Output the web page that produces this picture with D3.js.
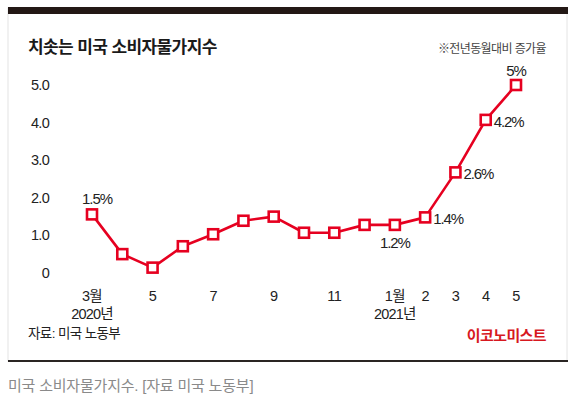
<!DOCTYPE html>
<html>
<head>
<meta charset="utf-8">
<script src="https://cdn.jsdelivr.net/npm/d3@7"></script>
<style>
  body { margin: 0; background: #fff; }
  text { font-family: "Liberation Sans", "Noto Sans CJK KR", sans-serif; }
</style>
</head>
<body>
<div id="chart"></div>
<script>
// months from 2020.3 to 2021.5
const months = ["2020-03","2020-04","2020-05","2020-06","2020-07","2020-08","2020-09",
    "2020-10","2020-11","2020-12","2021-01","2021-02","2021-03","2021-04","2021-05"];
const cpi = [1.55, 0.49, 0.13, 0.7, 1.02, 1.38, 1.49, 1.06, 1.06, 1.27, 1.27, 1.47, 2.67, 4.07, 5.0];
const tickLabels = ["3월", "", "5", "", "7", "", "9", "", "11", "", "1월", "2", "3", "4", "5"];
const yearLabels = ["2020년", "", "", "", "", "", "", "", "", "", "2021년", "", "", "", ""];
const valueLabels = ["1.5%", "", "", "", "", "", "", "", "", "", "1.2%", "1.4%", "2.6%", "4.2%", "5%"];
const yTicks = [0, 1, 2, 3, 4, 5];

const width = 582, height = 397;
const red = "#e60020";

const svg = d3.select("#chart").append("svg")
    .attr("width", width)
    .attr("height", height);

// frame
svg.append("rect").attr("x", 8).attr("y", 8).attr("width", 559).attr("height", 353)
    .attr("fill", "none").attr("stroke", "#e4e4e4").attr("stroke-width", 1);
svg.append("rect").attr("x", 8).attr("y", 7).attr("width", 560).attr("height", 7).attr("fill", "#231815");
svg.append("rect").attr("x", 8).attr("y", 360).attr("width", 560).attr("height", 2).attr("fill", "#2a2523");

svg.append("text").attr("x", 28).attr("y", 53)
    .attr("font-size", 17).attr("font-weight", "bold").attr("fill", "#1a1a1a")
    .attr("letter-spacing", -0.6)
    .text("치솟는 미국 소비자물가지수");

svg.append("text").attr("x", 546).attr("y", 53).attr("text-anchor", "end")
    .attr("font-size", 12).attr("fill", "#444").attr("letter-spacing", -0.6)
    .text("※전년동월대비 증가율");

const x = d3.scaleLinear().domain([0, months.length - 1]).range([92, 516]);
const y = d3.scaleLinear().domain([0, 5]).range([272.5, 85]);

// y labels
svg.append("g")
    .selectAll("text")
    .data(yTicks)
    .enter()
    .append("text")
    .attr("x", 49)
    .attr("y", d => y(d))
    .attr("dy", "0.36em")
    .attr("text-anchor", "end")
    .attr("font-size", 14.5)
    .attr("fill", "#222")
    .attr("letter-spacing", -0.7)
    .text(d => d === 0 ? "0" : d3.format(".1f")(d));

// x labels (month, year underneath when there is one)
const xl = svg.append("g")
    .selectAll("text")
    .data(tickLabels)
    .enter()
    .append("text")
    .attr("text-anchor", "middle")
    .attr("font-size", 14.5)
    .attr("fill", "#222")
    .attr("letter-spacing", -0.6);
xl.append("tspan")
    .attr("x", (d, i) => x(i))
    .attr("y", 301)
    .text(d => d);
xl.filter((d, i) => yearLabels[i] !== "")
    .append("tspan")
    .attr("x", (d, i) => x(tickLabels.indexOf(d)))
    .attr("y", 319)
    .attr("letter-spacing", -0.8)
    .text(d => yearLabels[tickLabels.indexOf(d)]);

// line
const line = d3.line().x((d, i) => x(i)).y(d => y(d));
svg.append("path")
    .datum(cpi)
    .attr("d", line)
    .attr("fill", "none")
    .attr("stroke", red)
    .attr("stroke-width", 2.6)
    .attr("stroke-linejoin", "round");

const s = 10;
svg.append("g")
    .selectAll("rect")
    .data(cpi)
    .enter()
    .append("rect")
    .attr("x", (d, i) => x(i) - s / 2)
    .attr("y", d => y(d) - s / 2)
    .attr("width", s)
    .attr("height", s)
    .attr("fill", "#fff")
    .attr("stroke", red)
    .attr("stroke-width", 2.6);

// value labels: above / below / right of the marker
const place = (i) => {
    if (i === 0) return { dx: 5, dy: -10, anchor: "middle" };
    if (i === cpi.length - 1) return { dx: 0, dy: -9, anchor: "middle" };
    if (i === 10) return { dx: 0, dy: 23, anchor: "middle" };
    return { dx: 8, dy: 7, anchor: "start" };
};
svg.append("g")
    .selectAll("text")
    .data(valueLabels)
    .enter()
    .append("text")
    .attr("x", (d, i) => x(i) + place(i).dx)
    .attr("y", (d, i) => y(cpi[i]) + place(i).dy)
    .attr("text-anchor", (d, i) => place(i).anchor)
    .attr("font-size", 15)
    .attr("fill", "#222")
    .attr("letter-spacing", -1.1)
    .text(d => d);

svg.append("text").attr("x", 28).attr("y", 338)
    .attr("font-size", 13.5).attr("fill", "#222").attr("letter-spacing", -0.6)
    .text("자료: 미국 노동부");

svg.append("text").attr("x", 546).attr("y", 341).attr("text-anchor", "end")
    .attr("font-size", 15).attr("font-weight", "bold").attr("fill", "#d7191f")
    .attr("letter-spacing", -0.6)
    .text("이코노미스트");

svg.append("text").attr("x", 8).attr("y", 391)
    .attr("font-size", 15).attr("fill", "#8a8a8a").attr("letter-spacing", -0.2)
    .text("미국 소비자물가지수. [자료 미국 노동부]");
</script>
</body>
</html>
